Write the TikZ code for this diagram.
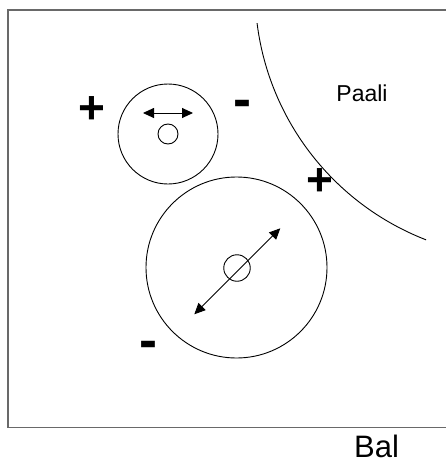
\documentclass[tikz,border=0pt]{standalone}
\usepackage{fontspec}
\setmainfont{Liberation Sans}
\usetikzlibrary{arrows.meta}
\definecolor{framegray}{RGB}{105,105,105}
\tikzset{
  ring/.style={circle,draw=black,line width=0.9pt,inner sep=0pt},
  plussign/.style={inner sep=0pt,font=\bfseries\fontsize{46}{46}\selectfont},
  minussign/.style={inner sep=0pt,font=\bfseries\fontsize{54}{54}\selectfont},
  lbl/.style={inner sep=0pt,anchor=base},
  dbl/.style={line width=0.9pt,{Triangle[length=11pt,width=10pt]}-{Triangle[length=11pt,width=10pt]}}
}
\begin{document}
\begin{tikzpicture}[x=1pt,y=-1pt]
\useasboundingbox (0,0) rectangle (446,463);
% frame
\coordinate (ftr) at (450,10);
\coordinate (ftl) at (8,10);
\coordinate (fbl) at (8,427.5);
\coordinate (fbr) at (450,427.5);
\draw[framegray,line width=1.6pt] (ftr) -- (ftl) -- (fbl) -- (fbr);
% big arc (Paali)
\draw[line width=0.9pt] (523,-10) ++(172.9:268) arc (172.9:111.2:268);
% small circle
\node[ring,minimum size=100pt] (sc) at (168,134) {};
\node[ring,minimum size=20pt] (sci) at (168,134) {};
\coordinate (sa1) at (143,113);
\coordinate (sa2) at (193,113);
\draw[dbl] (sa1) -- (sa2);
% big circle
\node[ring,minimum size=181pt] (bc) at (236.5,267.5) {};
\node[ring,minimum size=26.5pt] (bci) at (237,268) {};
\coordinate (ba1) at (194.3,314.3);
\coordinate (ba2) at (280.3,228.3);
\draw[dbl] (ba1) -- (ba2);
% signs
\node[plussign] (p1) at (92,110.5) {+};
\node[minussign] (m1) at (242.7,108.5) {-};
\node[plussign] (p2) at (319.5,181.7) {+};
\node[minussign] (m2) at (148,349.5) {-};
% labels
\node[lbl,font=\fontsize{23}{23}\selectfont] (paali) at (362,101.7) {Paali};
\node[lbl,font=\fontsize{31}{31}\selectfont] (bal) at (376.5,457) {Bal};
\end{tikzpicture}
\end{document}
